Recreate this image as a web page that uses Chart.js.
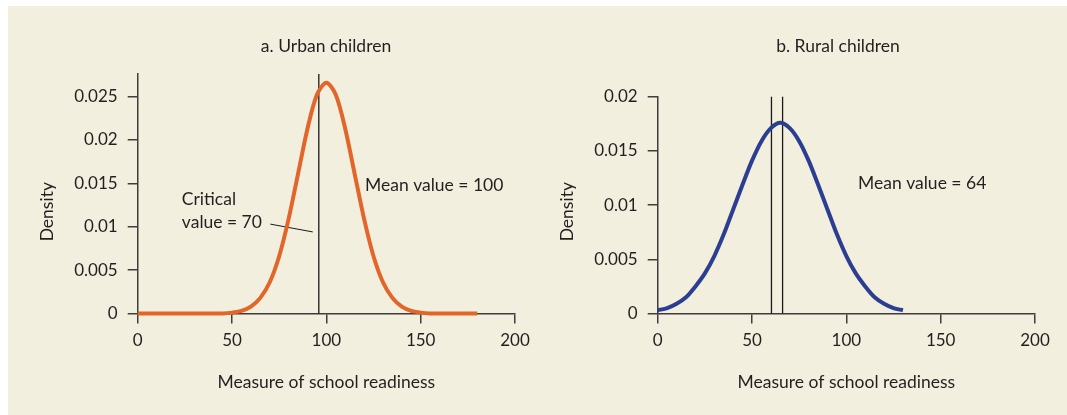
<!DOCTYPE html>
<html>
<head>
<meta charset="utf-8">
<script src="https://cdn.jsdelivr.net/npm/chart.js@4"></script>
<style>
  html, body { margin: 0; padding: 0; background: #ffffff; }
  #panel { position: absolute; left: 8px; top: 6px; width: 1059px; height: 409px; background: #f3efde; }
  canvas { position: absolute; top: 0; }
  #urbanChart { left: 0; }
  #ruralChart { left: 533px; }
</style>
</head>
<body>
<div id="panel"></div>
<canvas id="urbanChart" width="533" height="415"></canvas>
<canvas id="ruralChart" width="534" height="415"></canvas>
<script>
// School readiness scores and estimated density, urban children
const urbanScores = [0, 5, 10, 15, 20, 25, 30, 35, 40, 45, 50, 55, 60, 65, 70, 75, 80, 85, 90, 95,
    100, 105, 110, 115, 120, 125, 130, 135, 140, 145, 150, 155, 160, 165, 170, 175, 180];
const urbanDensity = [0, 0, 0, 0, 0, 0, 0, 0, 0, 0, 0.0001, 0.0003, 0.0008, 0.0018, 0.0036, 0.0066,
    0.0109, 0.0161, 0.0213, 0.0252, 0.0266, 0.0252, 0.0213, 0.0161, 0.0109, 0.0066, 0.0036, 0.0018,
    0.0008, 0.0003, 0.0001, 0, 0, 0, 0, 0, 0];

// Rural children
const ruralScores = [0, 5, 10, 15, 20, 25, 30, 35, 40, 45, 50, 55, 60, 65, 70, 75, 80, 85, 90, 95,
    100, 105, 110, 115, 120, 125, 130];
const ruralDensity = [0.0003, 0.0005, 0.0009, 0.0015, 0.0025, 0.0037, 0.0053, 0.0073, 0.0096, 0.0119,
    0.0141, 0.0159, 0.0171, 0.0176, 0.0171, 0.0159, 0.0141, 0.0119, 0.0096, 0.0073, 0.0053, 0.0037,
    0.0025, 0.0015, 0.0009, 0.0005, 0.0003];

// Vertical reference lines (score values)
const urbanMarkers = [96];
const ruralMarkers = [60.3, 66.2];

// Leader from the critical value label to its line
const urbanLeader = [{ x: 70.3, y: 0.0103 }, { x: 92.8, y: 0.0094 }];

// Axis ticks
const xTicks = [0, 50, 100, 150, 200];
const urbanYTicks = [0, 0.005, 0.01, 0.015, 0.02, 0.025];
const ruralYTicks = [0, 0.005, 0.01, 0.015, 0.02];
const urbanYMax = 0.0276;
const ruralYMax = 0.02;

const axisColor = '#3d3d3d';
const textColor = '#231f20';
const fontFamily = 'Lato, "Open Sans", sans-serif';
const labelFont = '17.5px ' + fontFamily;

Chart.defaults.font.family = fontFamily;
Chart.defaults.font.size = 17;
Chart.defaults.color = textColor;

// Titles, the rotated y label and free text notes
const annotate = {
    id: 'annotate',
    afterDraw(chart, args, opts) {
        const { ctx, scales: { x, y } } = chart;
        ctx.save();
        ctx.fillStyle = textColor;
        ctx.font = labelFont;
        ctx.textBaseline = 'middle';

        ctx.textAlign = 'center';
        ctx.fillText(opts.title, opts.titleX, opts.titleY);

        ctx.save();
        ctx.translate(opts.yLabelX, opts.yLabelY);
        ctx.rotate(-Math.PI / 2);
        ctx.fillText('Density', 0, 0);
        ctx.restore();

        ctx.textAlign = 'left';
        opts.notes.forEach(n => {
            ctx.fillText(n.text, x.getPixelForValue(n.x), y.getPixelForValue(n.y));
        });
        ctx.restore();
    }
};

function markerSets(markers, yMax) {
    return markers.map(m => ({
        data: [{ x: m, y: 0 }, { x: m, y: yMax }],
        borderColor: '#1a1a1a',
        borderWidth: 1.3,
        pointRadius: 0,
        clip: false,
        order: 2
    }));
}

function makeConfig(p) {
    return {
        type: 'line',
        data: {
            datasets: [
                {
                    data: p.scores.map((s, i) => ({ x: s, y: p.density[i] })),
                    borderColor: p.color,
                    borderWidth: 4,
                    pointRadius: 0,
                    tension: 0.3,
                    clip: false,
                    order: 1
                },
                ...markerSets(p.markers, p.yMax),
                ...p.extra
            ]
        },
        options: {
            responsive: false,
            animation: false,
            events: [],
            layout: { padding: { left: 0, right: p.padRight, top: p.padTop, bottom: 0 } },
            plugins: {
                legend: { display: false },
                tooltip: { enabled: false },
                annotate: p.annotate
            },
            scales: {
                x: {
                    type: 'linear',
                    min: 0,
                    max: 200,
                    afterBuildTicks: s => { s.ticks = xTicks.map(v => ({ value: v })); },
                    afterFit: s => { s.height = 101.5; s.paddingLeft = 0; s.paddingRight = 0; },
                    ticks: { padding: 7, maxRotation: 0, autoSkip: false, callback: v => String(v) },
                    grid: { drawOnChartArea: false, drawTicks: true, tickLength: 10, color: axisColor, lineWidth: 1.5 },
                    border: { display: true, color: axisColor, width: 1.5 },
                    title: { display: true, text: 'Measure of school readiness', font: { size: 17.5 }, padding: { top: 0, bottom: 21.8 } }
                },
                y: {
                    type: 'linear',
                    min: 0,
                    max: p.yMax,
                    afterBuildTicks: s => { s.ticks = p.yTicks.map(v => ({ value: v })); },
                    afterFit: s => { s.width = p.yWidth; s.paddingTop = 0; s.paddingBottom = 0; },
                    ticks: { padding: 10, autoSkip: false, callback: v => String(v) },
                    grid: { drawOnChartArea: false, drawTicks: true, tickLength: 10, color: axisColor, lineWidth: 1.5 },
                    border: { display: true, color: axisColor, width: 1.5 }
                }
            }
        },
        plugins: [annotate]
    };
}

new Chart(document.getElementById('urbanChart'), makeConfig({
    scores: urbanScores,
    density: urbanDensity,
    color: '#e2662a',
    markers: urbanMarkers,
    yMax: urbanYMax,
    yTicks: urbanYTicks,
    yWidth: 137.7,
    padRight: 18,
    padTop: 74,
    extra: [{
        data: urbanLeader,
        borderColor: '#1a1a1a',
        borderWidth: 1,
        pointRadius: 0,
        order: 2
    }],
    annotate: {
        title: 'a. Urban children',
        titleX: 326,
        titleY: 46.7,
        yLabelX: 47.5,
        yLabelY: 211.7,
        notes: [
            { text: 'Mean value = 100', x: 120.5, y: 0.01475 },
            { text: 'Critical', x: 23.4, y: 0.01321 },
            { text: 'value = 70', x: 23.4, y: 0.01048 }
        ]
    }
}));

new Chart(document.getElementById('ruralChart'), makeConfig({
    scores: ruralScores,
    density: ruralDensity,
    color: '#2c3e91',
    markers: ruralMarkers,
    yMax: ruralYMax,
    yTicks: ruralYTicks,
    yWidth: 124.7,
    padRight: 32,
    padTop: 96.7,
    extra: [],
    annotate: {
        title: 'b. Rural children',
        titleX: 305,
        titleY: 46.7,
        yLabelX: 34.7,
        yLabelY: 211.7,
        notes: [
            { text: 'Mean value = 64', x: 106.2, y: 0.01204 }
        ]
    }
}));
</script>
</body>
</html>
